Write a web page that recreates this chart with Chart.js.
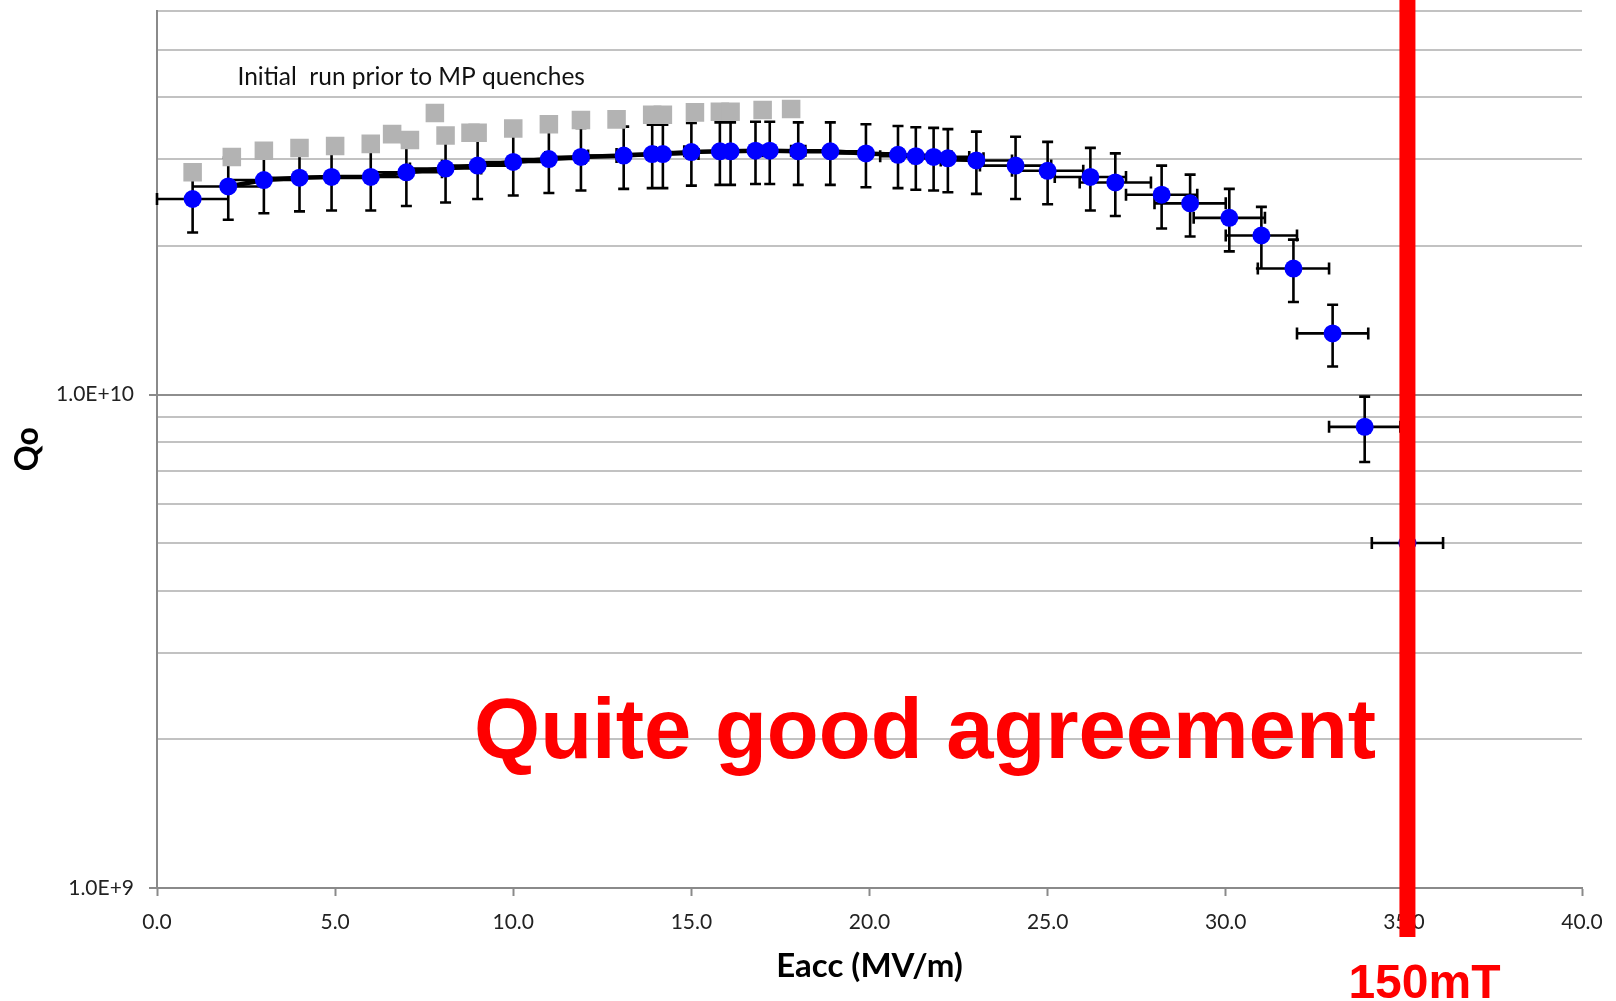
<!DOCTYPE html>
<html>
<head>
<meta charset="utf-8">
<title>Qo vs Eacc</title>
<script src="https://cdn.jsdelivr.net/npm/chart.js@4.4.1/dist/chart.umd.min.js"></script>
<style>
    html, body { margin: 0; padding: 0; background: #fff; }
    #chart { display: block; }
</style>
</head>
<body>
<canvas id="chart" width="1616" height="1001"></canvas>
<script>
'use strict';

// measured run: Eacc (MV/m), Qo (x1e10) and their error bars
const measuredEacc = [1.0, 2.0, 3.0, 4.0, 4.9, 6.0, 7.0, 8.1, 9.0, 10.0, 11.0, 11.9, 13.1, 13.9, 14.2, 15.0,
    15.8, 16.1, 16.8, 17.2, 18.0, 18.9, 19.9, 20.8, 21.3, 21.8, 22.2, 23.0, 24.1, 25.0, 26.2, 26.9,
    28.2, 29.0, 30.1, 31.0, 31.9, 33.0, 33.9, 35.1];
const measuredQo = [2.49, 2.64, 2.72, 2.75, 2.76, 2.76, 2.82, 2.87, 2.91, 2.96, 3.00, 3.03, 3.05, 3.07, 3.07, 3.10,
    3.11, 3.11, 3.12, 3.12, 3.11, 3.11, 3.08, 3.06, 3.04, 3.03, 3.01, 2.98, 2.91, 2.84, 2.76, 2.69,
    2.54, 2.44, 2.28, 2.10, 1.80, 1.33, 0.86, 0.50];
const measuredQoErr = [0.36, 0.38, 0.39, 0.40, 0.40, 0.40, 0.41, 0.42, 0.42, 0.43, 0.44, 0.44, 0.44, 0.45, 0.45, 0.45,
    0.45, 0.45, 0.45, 0.45, 0.45, 0.45, 0.45, 0.44, 0.44, 0.44, 0.44, 0.43, 0.42, 0.41, 0.40, 0.39,
    0.37, 0.35, 0.33, 0.30, 0.26, 0.19, 0.13, 0.07];
const measuredEaccErr = [1.0, 1.0, 1.0, 1.0, 1.0, 1.0, 1.0, 1.0, 1.0, 1.0, 1.0, 1.0, 1.0, 1.0, 1.0, 1.0,
    1.0, 1.0, 1.0, 1.0, 1.0, 1.0, 1.0, 1.0, 1.0, 1.0, 1.0, 1.0, 1.0, 1.0, 1.0, 1.0,
    1.0, 1.0, 1.0, 1.0, 1.0, 1.0, 1.0, 1.0];

// the thick black line only joins points 2 .. 28
const joinedFrom = 1;
const joinedTo = 28;

// initial run prior to MP quenches: Eacc (MV/m), Qo (x1e10)
const initialEacc = [1.0, 2.1, 3.0, 4.0, 5.0, 6.0, 6.6, 7.1, 7.8, 8.1, 8.8, 9.0, 10.0, 11.0, 11.9, 12.9,
    13.9, 14.2, 15.1, 15.8, 16.1, 17.0, 17.8];
const initialQo = [2.82, 3.03, 3.12, 3.16, 3.19, 3.22, 3.37, 3.28, 3.72, 3.35, 3.39, 3.39, 3.46, 3.53, 3.60, 3.61,
    3.69, 3.69, 3.73, 3.74, 3.74, 3.77, 3.79];

const xTickValues = [0, 5, 10, 15, 20, 25, 30, 35, 40];
const yGridValues = [1e9, 2e9, 3e9, 4e9, 5e9, 6e9, 7e9, 8e9, 9e9, 1e10, 2e10, 3e10, 4e10, 5e10, 6e10];
const yLabelValues = [1e9, 1e10];
const yLabels = ['1.0E+9', '1.0E+10'];

const quenchEacc = 35.1;
const quenchLabel = '150mT';
const agreementText = 'Quite good agreement';
const initialRunText = 'Initial  run prior to MP quenches';

const QO_UNIT = 1e10;

function toPoints(xs, qs) {
    return xs.map((x, i) => ({ x: x, y: qs[i] * QO_UNIT }));
}

/**
 * Draws the x and y error bars of the measured run, just under its markers.
 */
const errorBars = {

    id: 'errorBars',

    beforeDatasetDraw(chart, args) {

        if (args.index !== 1) {
            return;
        }

        const { ctx } = chart;
        const xs = chart.scales.x;
        const ys = chart.scales.y;

        ctx.save();
        ctx.strokeStyle = '#000';
        ctx.lineWidth = 2.6;
        ctx.beginPath();

        measuredEacc.forEach((e, i) => {

            const q = measuredQo[i] * QO_UNIT;
            const dq = measuredQoErr[i] * QO_UNIT;
            const px = xs.getPixelForValue(e);
            const py = ys.getPixelForValue(q);
            const top = ys.getPixelForValue(q + dq);
            const bottom = ys.getPixelForValue(q - dq);
            const left = xs.getPixelForValue(e - measuredEaccErr[i]);
            const right = xs.getPixelForValue(e + measuredEaccErr[i]);

            ctx.moveTo(px, top);
            ctx.lineTo(px, bottom);
            ctx.moveTo(px - 5.5, top);
            ctx.lineTo(px + 5.5, top);
            ctx.moveTo(px - 5.5, bottom);
            ctx.lineTo(px + 5.5, bottom);

            ctx.moveTo(left, py);
            ctx.lineTo(right, py);
            ctx.moveTo(left, py - 6);
            ctx.lineTo(left, py + 6);
            ctx.moveTo(right, py - 6);
            ctx.lineTo(right, py + 6);

        });

        ctx.stroke();
        ctx.restore();

    }

};

/**
 * Texts and the red 150mT marker drawn over the plot.
 */
const annotations = {

    id: 'annotations',

    afterDraw(chart) {

        const { ctx, chartArea } = chart;
        const xs = chart.scales.x;
        const ys = chart.scales.y;

        ctx.save();

        ctx.textBaseline = 'alphabetic';
        ctx.textAlign = 'left';
        ctx.fillStyle = '#111';
        ctx.font = '24.5px Lato';
        ctx.fillText(initialRunText, xs.getPixelForValue(2.26), ys.getPixelForValue(4.23e10));

        ctx.fillStyle = '#ff0000';
        ctx.font = 'bold 85px "Liberation Sans"';
        ctx.fillText(agreementText, xs.getPixelForValue(8.9), ys.getPixelForValue(1.83e9));

        const mx = xs.getPixelForValue(quenchEacc);
        ctx.fillRect(mx - 8, 0, 16, chartArea.bottom + 49);

        ctx.textAlign = 'center';
        ctx.font = 'bold 48px "Liberation Sans"';
        ctx.fillText(quenchLabel, mx + 17, chartArea.bottom + 110);

        ctx.restore();

    }

};

Chart.defaults.font.family = 'Lato';

new Chart(document.getElementById('chart'), {

    type: 'scatter',

    data: {

        datasets: [

            {
                label: 'Initial run prior to MP quenches',
                data: toPoints(initialEacc, initialQo),
                pointStyle: 'rect',
                pointRadius: 13.1,
                pointBorderWidth: 0,
                backgroundColor: '#b3b3b3',
                borderColor: '#b3b3b3',
                order: 0
            },

            {
                label: 'Measured',
                data: toPoints(measuredEacc, measuredQo),
                pointStyle: 'circle',
                pointRadius: 9,
                pointBorderWidth: 0,
                backgroundColor: '#0000ff',
                borderColor: '#0000ff',
                order: 1
            },

            {
                label: 'Trend',
                data: toPoints(
                    measuredEacc.slice(joinedFrom, joinedTo),
                    measuredQo.slice(joinedFrom, joinedTo)
                ),
                showLine: true,
                borderColor: '#000',
                borderWidth: 4.5,
                pointRadius: 0,
                order: 2
            }

        ]

    },

    options: {

        responsive: false,
        animation: false,
        devicePixelRatio: 1,

        layout: {
            autoPadding: false,
            padding: { top: 10.5, right: 34, left: 0, bottom: 0 }
        },

        plugins: {
            legend: { display: false },
            tooltip: { enabled: false }
        },

        scales: {

            x: {
                type: 'linear',
                min: 0,
                max: 40,
                afterBuildTicks(scale) {
                    scale.ticks = xTickValues.map(v => ({ value: v }));
                },
                afterFit(scale) {
                    scale.height = 113;
                    scale.paddingLeft = 0;
                    scale.paddingRight = 0;
                },
                border: { color: '#8a8a8a', width: 2 },
                grid: {
                    drawOnChartArea: false,
                    drawTicks: true,
                    tickLength: 8,
                    tickColor: '#8a8a8a',
                    tickWidth: 2
                },
                ticks: {
                    autoSkip: false,
                    maxRotation: 0,
                    padding: 13.5,
                    color: '#222',
                    font: { size: 21 },
                    callback: v => v.toFixed(1)
                },
                title: {
                    display: true,
                    text: 'Eacc (MV/m)',
                    color: '#000',
                    font: { size: 33, weight: 'bold' },
                    padding: { top: 0, bottom: 14.5 }
                }
            },

            y: {
                type: 'logarithmic',
                min: 1e9,
                max: 6e10,
                afterBuildTicks(scale) {
                    scale.ticks = yGridValues.map(v => ({ value: v }));
                },
                afterFit(scale) {
                    scale.width = 157;
                    scale.paddingTop = 0;
                    scale.paddingBottom = 0;
                },
                border: { color: '#8a8a8a', width: 2 },
                grid: {
                    lineWidth: 2,
                    color: ctx => yLabelValues.includes(ctx.tick.value) ? '#8e8e8e' : '#c2c2c2',
                    tickLength: 8,
                    tickWidth: 2,
                    tickColor: ctx => yLabelValues.includes(ctx.tick.value) ? '#8a8a8a' : 'rgba(0,0,0,0)'
                },
                ticks: {
                    autoSkip: false,
                    padding: 15,
                    color: '#222',
                    font: { size: 21 },
                    callback: v => {
                        const i = yLabelValues.indexOf(v);
                        return i >= 0 ? yLabels[i] : '';
                    }
                },
                title: {
                    display: true,
                    text: 'Qo',
                    color: '#000',
                    font: { size: 32, weight: 'bold' },
                    padding: { top: 8, bottom: 0 }
                }
            }

        }

    },

    plugins: [errorBars, annotations]

});
</script>
</body>
</html>
